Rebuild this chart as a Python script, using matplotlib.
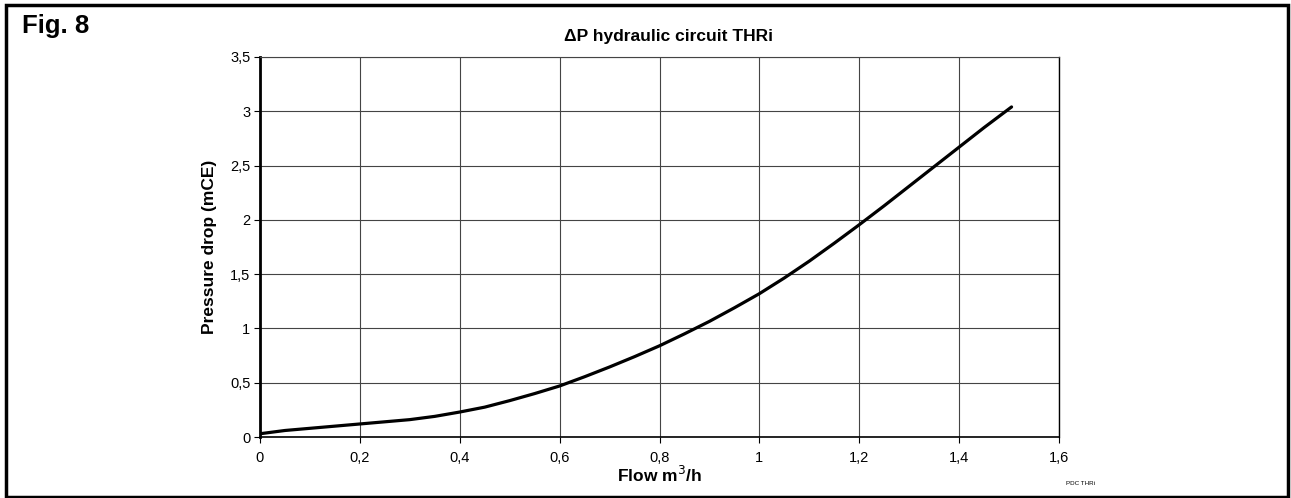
import matplotlib
matplotlib.use('Agg')
import matplotlib.pyplot as plt
from matplotlib.patches import Rectangle

# caudal (m3/h) y perdida de carga (mCE)
flow = [0.0, 0.05, 0.1, 0.15, 0.2, 0.25, 0.3, 0.35, 0.4, 0.45, 0.5, 0.55, 0.6,
        0.65, 0.7, 0.75, 0.8, 0.85, 0.9, 0.95, 1.0, 1.05, 1.1, 1.15, 1.2,
        1.25, 1.3, 1.35, 1.4, 1.45, 1.505]
pressure = [0.03, 0.06, 0.08, 0.10, 0.12, 0.14, 0.16, 0.19, 0.23, 0.275, 0.335, 0.40, 0.47,
            0.555, 0.645, 0.74, 0.84, 0.95, 1.065, 1.19, 1.32, 1.465, 1.62, 1.785, 1.955,
            2.13, 2.31, 2.49, 2.67, 2.85, 3.04]

x_ticks = [0, 0.2, 0.4, 0.6, 0.8, 1.0, 1.2, 1.4, 1.6]
x_labels = ['0', '0,2', '0,4', '0,6', '0,8', '1', '1,2', '1,4', '1,6']
y_ticks = [0, 0.5, 1.0, 1.5, 2.0, 2.5, 3.0, 3.5]
y_labels = ['0', '0,5', '1', '1,5', '2', '2,5', '3', '3,5']

plt.rcParams['font.family'] = ['Liberation Sans', 'DejaVu Sans']

fig = plt.figure(figsize=(12.91, 4.98), dpi=100)
ax = fig.add_axes([260 / 1291, 1 - 437 / 498, 799 / 1291, 380 / 498])

ax.plot(flow, pressure, color='black', linewidth=2.3, solid_capstyle='round',
        solid_joinstyle='round')

ax.set_xlim(0, 1.6)
ax.set_ylim(0, 3.5)
ax.set_xticks(x_ticks)
ax.set_xticklabels(x_labels)
ax.set_yticks(y_ticks)
ax.set_yticklabels(y_labels)
ax.tick_params(axis='both', labelsize=10.5, length=4, width=0.8, direction='out', pad=3)
ax.tick_params(axis='x', pad=6)
ax.grid(True, color='#444444', linewidth=0.8)

ax.spines['left'].set_linewidth(2)
ax.spines['bottom'].set_linewidth(1.2)
ax.spines['top'].set_linewidth(0.8)
ax.spines['right'].set_linewidth(1.0)
ax.spines['top'].set_color('#444444')

ax.set_ylabel('Pressure drop (mCE)', fontsize=12.5, fontweight='bold', labelpad=9)
ax.set_xlabel('Flow m$^3$/h', fontsize=12.5, fontweight='bold', labelpad=0)

fig.text(668 / 1291, 1 - 37 / 498, 'ΔP hydraulic circuit THRi', fontsize=12.5,
         fontweight='bold', va='center', ha='center')
fig.text(22 / 1291, 1 - 26 / 498, 'Fig. 8', fontsize=18.5, fontweight='bold', va='center', ha='left')
fig.text(1080 / 1291, 1 - 483 / 498, 'PDC THRi', fontsize=4.5, va='center', ha='center')

# marco exterior
fig.patches.append(Rectangle((6 / 1291, 1 / 498), 1282 / 1291, 492 / 498,
                             transform=fig.transFigure, fill=False,
                             edgecolor='black', linewidth=2.5))

fig.savefig('out.png', dpi=100)
